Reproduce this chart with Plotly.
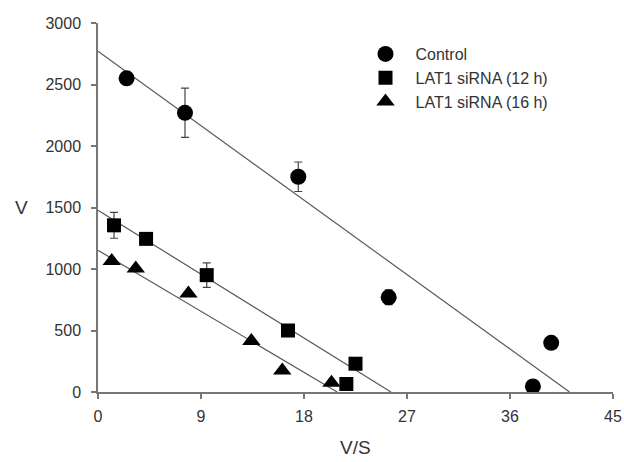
import plotly.graph_objects as go

# Data (Eadie-Hofstee style plot)
ctrl_x = [2.5, 7.6, 17.5, 25.4, 38.0, 39.6]
ctrl_y = [2550, 2270, 1750, 770, 45, 400]
ctrl_err = [20, 200, 120, 60, 0, 0]

s12_x = [1.4, 4.2, 9.5, 16.6, 22.5, 21.7]
s12_y = [1355, 1245, 950, 500, 230, 65]
s12_err = [105, 0, 100, 0, 0, 0]

s16_x = [1.2, 3.3, 7.9, 13.4, 16.1, 20.4]
s16_y = [1065, 1005, 800, 415, 175, 75]

# Regression lines: y-intercept (Vmax) and x-intercept
fit_vmax = [2770, 1477, 1152]
fit_xint = [41.2, 25.6, 20.9]

names = ["Control", "LAT1 siRNA (12 h)", "LAT1 siRNA (16 h)"]
symbols = ["circle", "square", "triangle-up"]
sizes = [16, 14, 16]

fig = go.Figure()

line_col = "#5a5a5a"
for vmax, xint in zip(fit_vmax, fit_xint):
    fig.add_trace(go.Scatter(x=[0, xint], y=[vmax, 0], mode="lines",
                             line=dict(color=line_col, width=1.2),
                             showlegend=False, hoverinfo="skip"))

series = [(ctrl_x, ctrl_y, ctrl_err), (s12_x, s12_y, s12_err), (s16_x, s16_y, None)]
for (xs, ys, err), name, sym, sz in zip(series, names, symbols, sizes):
    ey = None
    if err is not None:
        ey = dict(type="data", array=err, visible=True, color="#444", thickness=1.2, width=4)
    fig.add_trace(go.Scatter(x=xs, y=ys, mode="markers", name=name,
                             marker=dict(symbol=sym, size=sz, color="black"),
                             error_y=ey))

font_fam = "Liberation Sans, Arial"
axis_common = dict(showline=True, linecolor="#777", linewidth=1.5, ticks="outside",
                   ticklen=5, tickcolor="#777", tickwidth=1.5, showgrid=False, zeroline=False,
                   automargin=False, ticklabeloverflow="allow",
                   tickfont=dict(family=font_fam, size=16, color="#333"))

fig.update_layout(
    width=624, height=462,
    margin=dict(l=98, r=11, t=23, b=70),
    plot_bgcolor="white", paper_bgcolor="white",
    xaxis=dict(range=[0, 45], tickvals=[0, 9, 18, 27, 36, 45], ticklabelstandoff=4, **axis_common),
    yaxis=dict(range=[0, 3000], tickvals=[0, 500, 1000, 1500, 2000, 2500, 3000],
               ticklabelstandoff=7, **axis_common),
    legend=dict(x=0.5, y=0.962, xanchor="left", yanchor="top", bgcolor="rgba(0,0,0,0)",
                font=dict(family=font_fam, size=16, color="#333"),
                tracegroupgap=0, itemwidth=50),
    showlegend=True,
)

fig.add_annotation(text="V", xref="paper", yref="paper", x=-0.165, y=0.5,
                   showarrow=False, font=dict(family=font_fam, size=19, color="#333"))
fig.add_annotation(text="V/S", xref="paper", yref="paper", x=0.50, y=-0.15,
                   xanchor="center", yanchor="middle",
                   showarrow=False, font=dict(family=font_fam, size=19, color="#333"))

fig.write_html("out.html")
